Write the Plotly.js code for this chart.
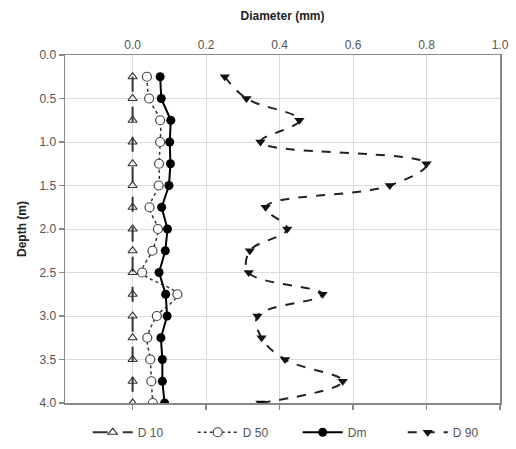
<!DOCTYPE html>
<html>
<head>
<meta charset="utf-8">
<script src="https://cdn.plot.ly/plotly-3.0.1.min.js"></script>
<style>body{margin:0;padding:0;background:#fff;}#chart{width:516px;height:449px;}</style>
</head>
<body>
<div id="chart"></div>
<script>
const depth = [0.25,0.5,0.75,1.0,1.25,1.5,1.75,2.0,2.25,2.5,2.75,3.0,3.25,3.5,3.75,4.0];
const d10 = [0.0,0.0,0.0,0.0,0.0,0.0,0.0,0.0,0.0,0.0,0.0,0.0,0.0,0.0,0.0,0.0];
const d50 = [0.039,0.045,0.075,0.075,0.072,0.071,0.046,0.069,0.054,0.026,0.122,0.066,0.040,0.048,0.051,0.055];
const dm  = [0.075,0.078,0.104,0.101,0.103,0.099,0.079,0.095,0.089,0.072,0.090,0.094,0.077,0.081,0.081,0.087];
const d90 = [0.251,0.310,0.454,0.348,0.800,0.700,0.362,0.421,0.319,0.316,0.517,0.340,0.351,0.415,0.572,0.348];
const xTicks = [0.0,0.2,0.4,0.6,0.8,1.0];
const xTickText = ['0.0','0.2','0.4','0.6','0.8','1.0'];
const yTicks = [0,0.5,1,1.5,2,2.5,3,3.5,4];
const yTickText = ['0.0','0.5','1.0','1.5','2.0','2.5','3.0','3.5','4.0'];

const xr = [-0.184, 1.0];
const traces = [
  {name:'D 10', x:d10, y:depth, mode:'lines+markers', xaxis:'x2',
   line:{color:'#333', width:2, dash:'longdash'},
   marker:{symbol:'triangle-up-open', size:8, color:'#333', line:{width:1.2}}},
  {name:'D 50', x:d50, y:depth, mode:'lines+markers',
   line:{color:'#333', width:1.5, dash:'dot', shape:'spline', smoothing:0.8},
   marker:{symbol:'circle', size:9, color:'#fff', line:{color:'#444', width:1.2}}},
  {name:'Dm', x:dm, y:depth, mode:'lines+markers',
   line:{color:'#000', width:2},
   marker:{symbol:'circle', size:9, color:'#000'}},
  {name:'D 90', x:d90, y:depth, mode:'lines+markers',
   line:{color:'#222', width:2, dash:'dash', shape:'spline', smoothing:1.1},
   marker:{symbol:'triangle-down', size:9, color:'#111'}}
];

const layout = {
  width:516, height:449,
  margin:{l:65, r:16, t:55, b:46},
  paper_bgcolor:'#fff', plot_bgcolor:'#fff',
  font:{family:'Liberation Sans, Arial, sans-serif', size:11, color:'#555'},
  showlegend:true,
  legend:{orientation:'h', xref:'container', yref:'container', x:0.17, y:0.005, xanchor:'left', yanchor:'bottom',
          entrywidth:50, entrywidthmode:'pixels', font:{size:12, color:'#555'}, itemwidth:40},
  xaxis:{side:'top', range:xr, tickvals:xTicks, ticktext:xTickText,
         showgrid:true, gridcolor:'#dcdcdc', gridwidth:1, zeroline:false,
         showline:true, linecolor:'#888', linewidth:1.5, mirror:true, ticks:'',
         title:{text:'<b>Diameter (mm)</b>', font:{size:12, color:'#222'}, standoff:14},
         tickfont:{size:12, color:'#555'}},
  xaxis2:{overlaying:'x', side:'bottom', anchor:'y', range:xr, tickvals:xTicks,
          showticklabels:false, showgrid:false, zeroline:false, showline:true, linecolor:'#888', linewidth:1.5,
          ticks:'outside', ticklen:5, tickcolor:'#888', tickwidth:1.5},
  yaxis:{range:[4,0], tickvals:yTicks, ticktext:yTickText,
         showgrid:true, gridcolor:'#dcdcdc', gridwidth:1, zeroline:false,
         showline:true, linecolor:'#888', linewidth:1.5, mirror:true,
         ticks:'outside', ticklen:5, tickcolor:'#888', tickwidth:1.5,
         title:{text:'<b>Depth (m)</b>', font:{size:12, color:'#222'}, standoff:10},
         tickfont:{size:12, color:'#555'}}
};
Plotly.newPlot('chart', traces, layout, {displayModeBar:false, staticPlot:true});
</script>
</body>
</html>
